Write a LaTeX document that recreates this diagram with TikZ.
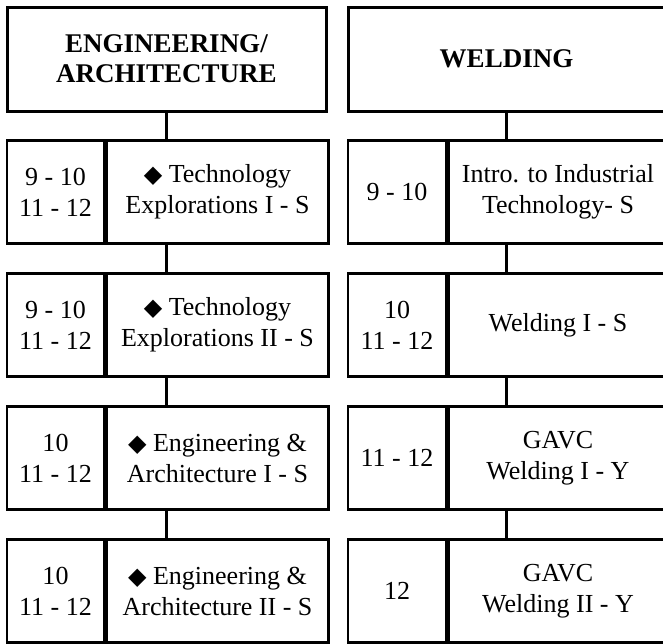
\documentclass[tikz,border=0pt]{standalone}
\usepackage{fontspec}
\setmainfont{Liberation Serif}
\newfontfamily\symfont{DejaVu Sans}
\usetikzlibrary{positioning}

\newcommand{\dmd}{{\symfont\fontsize{24}{24}\selectfont ◆}}

\begin{document}
\begin{tikzpicture}[-,line width=2.5pt,node distance=133pt,
    head node/.style={draw,line width=3pt,minimum width=319pt,minimum height=104pt,inner sep=0pt,align=center,font=\fontsize{27}{30}\selectfont\bfseries},
    grade node/.style={draw,minimum width=97pt,minimum height=103pt,inner sep=0pt,align=center,font=\fontsize{26}{31}\selectfont},
    course node/.style={draw,minimum width=222pt,minimum height=103pt,inner sep=0pt,align=center,font=\fontsize{26}{31}\selectfont}]

                \useasboundingbox (0,0) rectangle (663pt,-643pt);

                \node[head node] (eng) at (166.5pt,-59pt) {ENGINEERING/\\ARCHITECTURE};
                \node[grade node] (eg1) [below of = eng, xshift=-111pt]{9 - 10\\11 - 12};
                \node[course node] (ec1) [right=0pt of eg1]{\dmd{} Technology\\Explorations I - S};
                \node[grade node] (eg2) [below of = eg1]{9 - 10\\11 - 12};
                \node[course node] (ec2) [right=0pt of eg2]{\dmd{} Technology\\Explorations II - S};
                \node[grade node] (eg3) [below of = eg2]{10\\11 - 12};
                \node[course node] (ec3) [right=0pt of eg3]{\dmd{} Engineering \&\\Architecture I - S};
                \node[grade node] (eg4) [below of = eg3]{10\\11 - 12};
                \node[course node] (ec4) [right=0pt of eg4]{\dmd{} Engineering \&\\Architecture II - S};

                \node[head node, minimum width=317pt] (weld) at (506.5pt,-59pt) {WELDING};
                \node[grade node, minimum width=98pt] (wg1) [below of = weld, xshift=-109.5pt]{9 - 10};
                \node[course node, minimum width=219pt] (wc1) [right=0pt of wg1]{Intro. to Industrial\\Technology- S};
                \node[grade node, minimum width=98pt] (wg2) [below of = wg1]{10\\11 - 12};
                \node[course node, minimum width=219pt] (wc2) [right=0pt of wg2]{Welding I - S};
                \node[grade node, minimum width=98pt] (wg3) [below of = wg2]{11 - 12};
                \node[course node, minimum width=219pt] (wc3) [right=0pt of wg3]{GAVC\\Welding I - Y};
                \node[grade node, minimum width=98pt] (wg4) [below of = wg3]{12};
                \node[course node, minimum width=219pt] (wc4) [right=0pt of wg4]{GAVC\\Welding II - Y};

                \path[line width=3pt]
                    (eng) edge (eng |- ec1.north)
                    (eng |- ec1.south) edge (eng |- ec2.north)
                    (eng |- ec2.south) edge (eng |- ec3.north)
                    (eng |- ec3.south) edge (eng |- ec4.north)

                    (weld) edge (weld |- wc1.north)
                    (weld |- wc1.south) edge (weld |- wc2.north)
                    (weld |- wc2.south) edge (weld |- wc3.north)
                    (weld |- wc3.south) edge (weld |- wc4.north)
                ;
            \end{tikzpicture}
\end{document}
